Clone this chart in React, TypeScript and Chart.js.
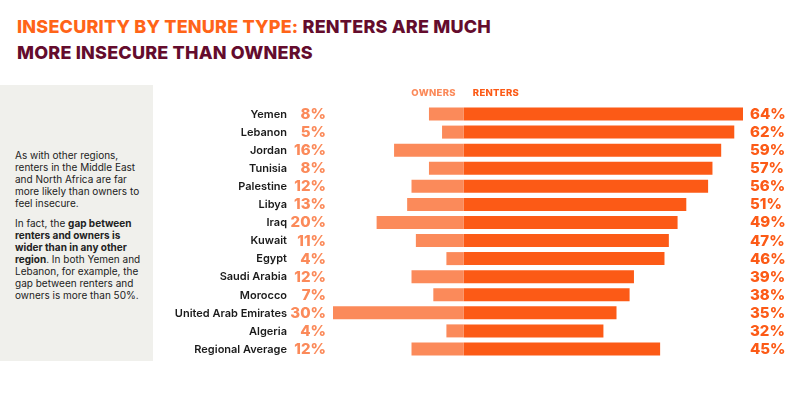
import React, { useEffect, useRef } from "react";
import { Chart, registerables } from "chart.js";

Chart.register(...registerables);

const countries = [
  "Yemen", "Lebanon", "Jordan", "Tunisia", "Palestine", "Libya", "Iraq",
  "Kuwait", "Egypt", "Saudi Arabia", "Morocco", "United Arab Emirates", "Algeria", "Regional Average",
];
const owners = [8, 5, 16, 8, 12, 13, 20, 11, 4, 12, 7, 30, 4, 12];
const renters = [64, 62, 59, 57, 56, 51, 49, 47, 46, 39, 38, 35, 32, 45];
const seriesNames = ["OWNERS", "RENTERS"];

const OWNER_COLOR = "#FB8A5A";
const RENTER_COLOR = "#FC5A16";
const FONT = "Inter, 'Noto Sans', sans-serif";

const labelPlugin = {
  id: "rowLabels",
  afterDatasetsDraw(chart: any) {
    const ctx = chart.ctx;
    const yScale = chart.scales.y;
    const xScale = chart.scales.x;
    const zero = xScale.getPixelForValue(0);
    ctx.save();
    ctx.textBaseline = "middle";
    countries.forEach((name, i) => {
      const y = yScale.getPixelForValue(i);
      ctx.font = `600 11px ${FONT}`;
      ctx.fillStyle = "#1b1b1b";
      ctx.textAlign = "right";
      ctx.fillText(name, 287, y + 0.5);
      ctx.font = `800 15px ${FONT}`;
      ctx.fillStyle = OWNER_COLOR;
      ctx.fillText(owners[i] + "%", 326, y + 0.5);
      ctx.fillStyle = RENTER_COLOR;
      ctx.textAlign = "left";
      ctx.fillText(renters[i] + "%", 750, y + 0.5);
    });
    // legend headers
    ctx.font = `800 9.5px ${FONT}`;
    (ctx as any).letterSpacing = "0.3px";
    ctx.fillStyle = OWNER_COLOR;
    ctx.textAlign = "right";
    ctx.fillText(seriesNames[0], zero - 8, 93);
    ctx.fillStyle = RENTER_COLOR;
    ctx.textAlign = "left";
    ctx.fillText(seriesNames[1], zero + 9, 93);
    ctx.restore();
  },
};

export default function App() {
  const ref = useRef<HTMLCanvasElement>(null);
  useEffect(() => {
    if (!ref.current) return;
    const chart = new Chart(ref.current, {
      type: "bar",
      data: {
        labels: countries,
        datasets: [
          {
            label: "Owners",
            data: owners.map((v) => -v),
            backgroundColor: OWNER_COLOR,
            barPercentage: 0.72,
            categoryPercentage: 1,
          },
          {
            label: "Renters",
            data: renters,
            backgroundColor: RENTER_COLOR,
            barPercentage: 0.72,
            categoryPercentage: 1,
          },
        ],
      },
      options: {
        indexAxis: "y",
        animation: false,
        responsive: true,
        maintainAspectRatio: false,
        layout: { padding: { left: 333, right: 57, top: 105, bottom: 41 } },
        plugins: { legend: { display: false }, tooltip: { enabled: false }, title: { display: false } },
        scales: {
          x: { display: false, stacked: true, min: -30, max: 64 },
          y: { display: false, stacked: true },
        },
      },
      plugins: [labelPlugin],
    });
    return () => chart.destroy();
  }, []);

  const sideText: React.CSSProperties = {
    margin: 0,
    fontFamily: FONT,
    fontSize: "10px",
    lineHeight: "12px",
    color: "#222",
  };

  return (
    <div style={{ position: "absolute", left: 0, top: 0, width: 800, height: 399, overflow: "hidden", background: "#fff" }}>
      <div
        style={{
          position: "absolute",
          left: 17,
          top: 14,
          fontFamily: FONT,
          fontWeight: 800,
          fontSize: "18px",
          lineHeight: "26px",
          letterSpacing: "0.2px",
          color: "#640C2D",
          whiteSpace: "nowrap",
        }}
      >
        <div>
          <span style={{ color: "#FF6418" }}>INSECURITY BY TENURE TYPE:</span> RENTERS ARE MUCH
        </div>
        <div>MORE INSECURE THAN OWNERS</div>
      </div>
      <div style={{ position: "absolute", left: 0, top: 85, width: 153, height: 276, background: "#F0F0EC" }}>
        <div style={{ position: "absolute", left: 15, top: 64, width: 134 }}>
          <p style={sideText}>
            As with other regions, renters in the Middle East and North Africa are far more likely than owners to feel insecure.
          </p>
          <p style={{ ...sideText, marginTop: 8 }}>
            In fact, the <b>gap between renters and owners is wider than in any other region</b>. In both Yemen and Lebanon, for example, the gap between renters and owners is more than 50%.
          </p>
        </div>
      </div>
      <div style={{ position: "absolute", left: 0, top: 0, width: 800, height: 399 }}>
        <canvas ref={ref} />
      </div>
    </div>
  );
}
